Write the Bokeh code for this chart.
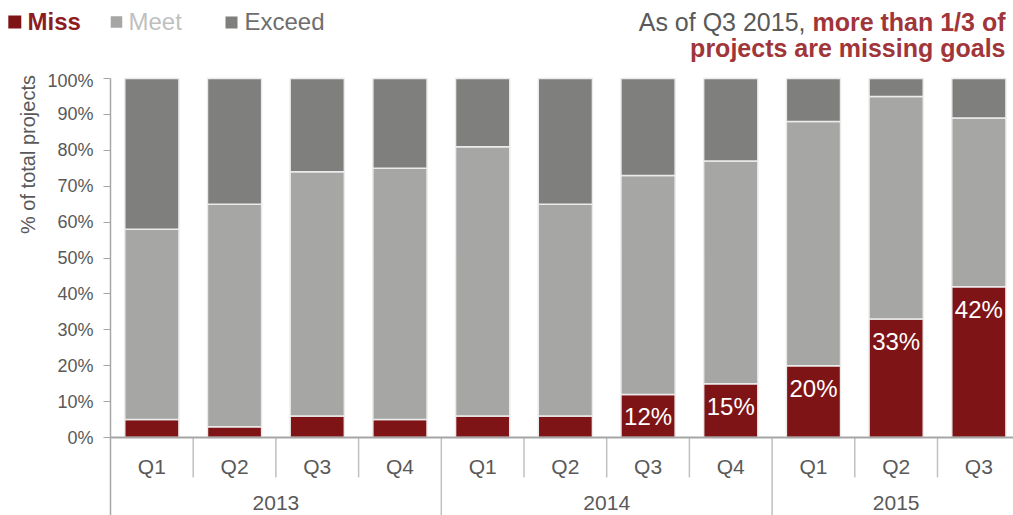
import math
from bokeh.plotting import figure
from bokeh.layouts import column, row
from bokeh.models import ColumnDataSource, FixedTicker, PrintfTickFormatter, Span
from bokeh.core.properties import value
from bokeh.embed import file_html
from bokeh.resources import INLINE

# ---------------- data ----------------
years = ["2013", "2013", "2013", "2013", "2014", "2014", "2014", "2014", "2015", "2015", "2015"]
quarters = ["Q1", "Q2", "Q3", "Q4", "Q1", "Q2", "Q3", "Q4", "Q1", "Q2", "Q3"]
series = ["Miss", "Meet", "Exceed"]
miss = [5, 3, 6, 5, 6, 6, 12, 15, 20, 33, 42]
meet = [53, 62, 68, 70, 75, 59, 61, 62, 68, 62, 47]
exceed = [42, 35, 26, 25, 19, 35, 27, 23, 12, 5, 11]
y_ticks = [0, 10, 20, 30, 40, 50, 60, 70, 80, 90, 100]
label_threshold = 10
y_title = "% of total projects"
title_plain = "As of Q3 2015,"
title_bold_1 = "more than 1/3 of"
title_bold_2 = "projects are missing goals"

# ---------------- style ----------------
FONT = "Liberation Sans"
TEXT_GRAY = "#595959"
AXIS_GRAY = "#A6A6A6"
SEP_GRAY = "#C0C0C0"
colors = ["#7F1416", "#A6A6A5", "#7F7F7D"]
legend_text_colors = ["#8C1C1F", "#BFBFBF", "#6E6E6E"]
legend_text_styles = ["bold", "normal", "normal"]
TITLE_RED = "#A0353A"

TOTAL_W, TOTAL_H = 1013, 515
HEAD_H = 70
STRIP_W = 40
MAIN_W = TOTAL_W - STRIP_W
MAIN_H = TOTAL_H - HEAD_H
LEFT = 110 - STRIP_W
frame_w = MAIN_W - LEFT
frame_h = MAIN_H
CAT_PX = 82.7
Y_PX = 3.59
ZERO_Y = 437  # page pixel of 0%
x_start = -0.5
x_end = x_start + frame_w / CAT_PX
y_end = (ZERO_Y - HEAD_H) / Y_PX
y_start = y_end - frame_h / Y_PX


def dy(py):  # page pixel -> data y of main plot
    return (ZERO_Y - py) / Y_PX


def bare(fig):
    fig.outline_line_color = None
    fig.grid.visible = False
    return fig


# ---------------- header (legend + title) ----------------
head = bare(figure(width=TOTAL_W, height=HEAD_H, x_range=(0, TOTAL_W), y_range=(HEAD_H, 0),
                   output_backend="svg", toolbar_location=None, x_axis_type=None,
                   y_axis_type=None, min_border=0))
sq_x = [14.3, 116, 231]
sq_size = [13, 11.5, 12]
txt_x = [27, 128, 244]
head.rect(x=sq_x, y=[21.5, 21.5, 22], width=sq_size, height=sq_size,
          fill_color=colors, line_color=None)
for i, name in enumerate(series):
    head.text(x=[txt_x[i]], y=[21], text=[name], text_align="left", text_baseline="middle",
              text_color=legend_text_colors[i], text_font=value(FONT), text_font_size="24px",
              text_font_style=legend_text_styles[i])
head.text(x=[805], y=[21], text=[title_plain], text_align="right", text_baseline="middle",
          text_color=TEXT_GRAY, text_font=value(FONT), text_font_size="25px")
head.text(x=[1005, 1005], y=[21, 47.5], text=[title_bold_1, title_bold_2], text_align="right",
          text_baseline="middle", text_color=TITLE_RED, text_font=value(FONT),
          text_font_size="25px", text_font_style="bold")

# ---------------- left strip (y title) ----------------
strip = bare(figure(width=STRIP_W, height=MAIN_H, x_range=(0, STRIP_W),
                    y_range=(TOTAL_H, HEAD_H), output_backend="svg", toolbar_location=None,
                    x_axis_type=None, y_axis_type=None, min_border=0))
strip.text(x=[27], y=[154], text=[y_title], angle=math.pi / 2, text_align="center",
           text_baseline="middle", text_color=TEXT_GRAY, text_font=value(FONT),
           text_font_size="20px")

# ---------------- main chart ----------------
xs = list(range(len(quarters)))
src = ColumnDataSource(dict(x=xs, Miss=miss, Meet=meet, Exceed=exceed))

p = bare(figure(width=MAIN_W, height=MAIN_H, x_range=(x_start, x_end), y_range=(y_start, y_end),
                output_backend="svg", toolbar_location=None, x_axis_type=None,
                min_border_left=LEFT, min_border_top=0, min_border_right=0, min_border_bottom=0))

p.vbar_stack(series, x="x", width=0.655, source=src, fill_color=colors,
             line_color="#EBEBEB", line_width=1.5)

lx = [x for x, m in zip(xs, miss) if m >= label_threshold]
ly = [m for m in miss if m >= label_threshold]
lt = [f"{m}%" for m in miss if m >= label_threshold]
p.text(x=lx, y=ly, text=lt, text_align="center", text_baseline="top", y_offset=9,
       text_color="white", text_font=value(FONT), text_font_size="24px")

p.add_layout(Span(location=0, dimension="width", line_color=AXIS_GRAY, line_width=2))

q_y = dy(466)
yr_y = dy(502)
p.text(x=xs, y=[q_y] * len(xs), text=quarters, text_align="center", text_baseline="middle",
       text_color=TEXT_GRAY, text_font=value(FONT), text_font_size="21px")
uniq_years = []
for yv in years:
    if yv not in uniq_years:
        uniq_years.append(yv)
yr_x = [sum(i for i, yv in enumerate(years) if yv == u) / years.count(u) for u in uniq_years]
p.text(x=yr_x, y=[yr_y] * len(uniq_years), text=uniq_years, text_align="center",
       text_baseline="middle", text_color=TEXT_GRAY, text_font=value(FONT), text_font_size="21px")

q_sep_x, y_sep_x = [], []
for i in range(1, len(years)):
    if years[i] != years[i - 1]:
        y_sep_x.append(i - 0.5)
    else:
        q_sep_x.append(i - 0.5)
p.segment(x0=q_sep_x, y0=[0] * len(q_sep_x), x1=q_sep_x, y1=[dy(477)] * len(q_sep_x),
          line_color=SEP_GRAY, line_width=1.5)
p.segment(x0=y_sep_x, y0=[0] * len(y_sep_x), x1=y_sep_x, y1=[y_start] * len(y_sep_x),
          line_color=SEP_GRAY, line_width=1.5)

ax = p.yaxis[0]
ax.ticker = FixedTicker(ticks=y_ticks)
ax.formatter = PrintfTickFormatter(format="%d%%")
ax.bounds = (y_start, 100)
ax.major_label_text_font = FONT
ax.major_label_text_font_size = "18px"
ax.major_label_text_color = TEXT_GRAY
ax.major_tick_out = 7
ax.major_tick_in = 0
ax.minor_tick_out = 0
ax.minor_tick_in = 0
ax.major_tick_line_color = AXIS_GRAY
ax.axis_line_color = AXIS_GRAY
ax.axis_line_width = 1.5
ax.major_label_standoff = 10

layout = column(head, row(strip, p, spacing=0), spacing=0)
open("out.html", "w").write(file_html(layout, INLINE))
